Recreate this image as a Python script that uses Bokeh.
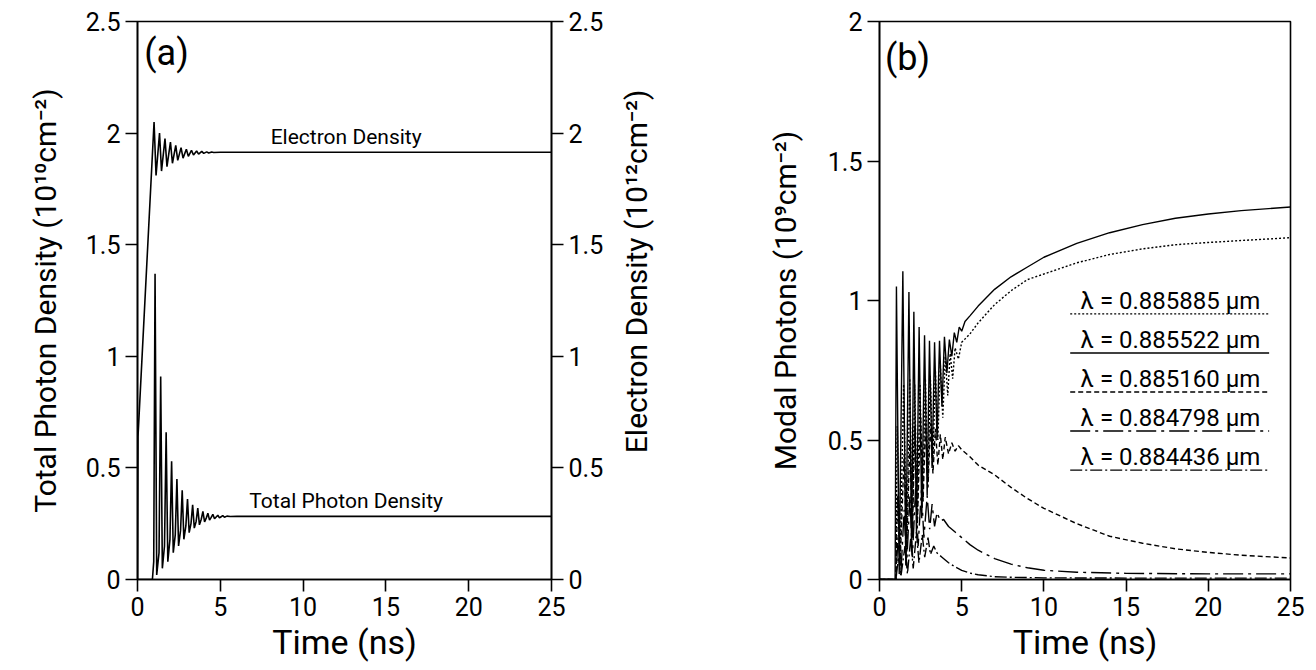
import math
from bokeh.plotting import figure
from bokeh.models import Range1d, LinearAxis, FixedTicker, Label
from bokeh.layouts import row
from bokeh.embed import file_html
from bokeh.resources import INLINE

FONT = "Roboto"

# ---------------- data ----------------
time_ticks = [0, 5, 10, 15, 20, 25]
a_yticks = [0, 0.5, 1, 1.5, 2, 2.5]
a_ytick_labels = ["0", "0.5", "1", "1.5", "2", "2.5"]
b_yticks = [0, 0.5, 1, 1.5, 2]
b_ytick_labels = ["0", "0.5", "1", "1.5", "2"]

# panel (a): total photon density (10^10 cm^-2) vs time (ns)
photon_t = [0.0, 0.90, 0.98, 1.06, 1.16, 1.30, 1.40, 1.50, 1.63, 1.73, 1.83, 1.96, 2.06, 2.16, 2.28,
            2.38, 2.48, 2.60, 2.70, 2.80, 2.92, 3.02, 3.12, 3.23, 3.33, 3.43, 3.54, 3.64, 3.74, 3.85,
            3.95, 4.05, 4.15, 4.25, 4.35, 4.45, 4.55, 4.65, 4.75, 4.85, 4.95, 5.05, 5.15, 5.25, 5.40,
            5.60, 6.00, 10.0, 15.0, 20.0, 25.0]
photon_v = [0.0, 0.0, 0.08, 1.37, 0.02, 0.12, 0.91, 0.05, 0.15, 0.66, 0.08, 0.18, 0.53, 0.12, 0.20,
            0.45, 0.15, 0.22, 0.40, 0.18, 0.24, 0.36, 0.21, 0.25, 0.335, 0.23, 0.26, 0.32, 0.245, 0.27,
            0.305, 0.258, 0.275, 0.297, 0.266, 0.278, 0.292, 0.272, 0.28, 0.288, 0.276, 0.281, 0.286,
            0.279, 0.284, 0.282, 0.283, 0.283, 0.283, 0.283, 0.283]

# panel (a): electron density (10^12 cm^-2) vs time (ns)
electron_t = [0.0, 0.03, 1.00, 1.12, 1.33, 1.45, 1.66, 1.78, 1.99, 2.11, 2.31, 2.43, 2.63, 2.75, 2.95,
              3.07, 3.26, 3.38, 3.57, 3.69, 3.88, 4.00, 4.18, 4.30, 4.48, 4.60, 5.00, 10.0, 15.0, 20.0,
              25.0]
electron_v = [0.0, 0.64, 2.05, 1.81, 2.00, 1.83, 1.975, 1.85, 1.96, 1.865, 1.945, 1.878, 1.935, 1.888,
              1.928, 1.896, 1.923, 1.902, 1.92, 1.906, 1.918, 1.909, 1.916, 1.911, 1.915, 1.913, 1.914,
              1.914, 1.914, 1.914, 1.914]

# panel (b): modal photons (10^9 cm^-2) vs time (ns)
mode_885885 = [(0, 0), (1.0, 0), (1.08, 0.55), (1.25, 0.05), (1.47, 0.70), (1.65, 0.10), (1.84, 0.72),
               (2.0, 0.15), (2.14, 0.70), (2.3, 0.20), (2.46, 0.70), (2.62, 0.28), (2.79, 0.72),
               (2.95, 0.35), (3.09, 0.73), (3.25, 0.42), (3.4, 0.75), (3.55, 0.50), (3.7, 0.77),
               (3.85, 0.58), (4.0, 0.80), (4.15, 0.66), (4.3, 0.81), (4.45, 0.72), (4.6, 0.83),
               (4.8, 0.79), (5.0, 0.85), (5.5, 0.88), (6, 0.92), (7, 0.985), (8, 1.035), (9, 1.075),
               (10, 1.095), (12, 1.135), (14, 1.165), (16, 1.185), (18, 1.20), (20, 1.208),
               (22, 1.215), (25, 1.225)]
mode_885522 = [(0, 0), (0.95, 0), (1.03, 1.05), (1.2, 0.02), (1.42, 1.105), (1.6, 0.05), (1.79, 1.03),
               (1.95, 0.10), (2.09, 0.96), (2.25, 0.15), (2.41, 0.905), (2.57, 0.22), (2.74, 0.875),
               (2.9, 0.30), (3.04, 0.856), (3.2, 0.40), (3.35, 0.85), (3.5, 0.50), (3.65, 0.856),
               (3.8, 0.62), (3.95, 0.87), (4.1, 0.74), (4.25, 0.86), (4.4, 0.80), (4.55, 0.885),
               (4.7, 0.85), (4.85, 0.905), (5.0, 0.89), (5.2, 0.925), (5.5, 0.945), (6, 0.98),
               (7, 1.04), (8, 1.085), (9, 1.12), (10, 1.155), (12, 1.205), (14, 1.243), (16, 1.272),
               (18, 1.295), (20, 1.31), (22, 1.322), (25, 1.335)]
mode_885160 = [(0, 0), (1.0, 0), (1.1, 0.30), (1.25, 0.05), (1.5, 0.45), (1.65, 0.10), (1.85, 0.50),
               (2.0, 0.15), (2.15, 0.55), (2.3, 0.20), (2.5, 0.58), (2.65, 0.28), (2.8, 0.56),
               (2.95, 0.33), (3.1, 0.56), (3.25, 0.38), (3.4, 0.54), (3.55, 0.41), (3.7, 0.52),
               (3.85, 0.43), (4.0, 0.51), (4.2, 0.45), (4.4, 0.49), (4.6, 0.46), (4.8, 0.48),
               (5.0, 0.465), (5.5, 0.44), (6, 0.41), (7, 0.375), (8, 0.33), (9, 0.29), (10, 0.255),
               (12, 0.20), (14, 0.155), (16, 0.13), (18, 0.11), (20, 0.097), (22, 0.087), (25, 0.077)]
mode_884798 = [(0, 0), (1.0, 0), (1.12, 0.15), (1.3, 0.02), (1.5, 0.25), (1.65, 0.05), (1.85, 0.30),
               (2.0, 0.08), (2.2, 0.33), (2.35, 0.12), (2.55, 0.32), (2.7, 0.15), (2.9, 0.30),
               (3.05, 0.18), (3.2, 0.27), (3.35, 0.19), (3.5, 0.24), (3.7, 0.21), (3.9, 0.215),
               (4.2, 0.19), (4.6, 0.17), (5, 0.15), (5.5, 0.125), (6, 0.105), (7, 0.075), (8, 0.055),
               (9, 0.042), (10, 0.033), (12, 0.026), (15, 0.022), (20, 0.02), (25, 0.02)]
mode_884436 = [(0, 0), (1.0, 0), (1.15, 0.08), (1.3, 0.01), (1.55, 0.12), (1.7, 0.02), (1.9, 0.15),
               (2.05, 0.04), (2.25, 0.17), (2.4, 0.06), (2.6, 0.16), (2.75, 0.08), (2.95, 0.15),
               (3.1, 0.09), (3.3, 0.12), (3.5, 0.095), (3.8, 0.08), (4.2, 0.06), (4.6, 0.045),
               (5, 0.033), (5.5, 0.023), (6, 0.017), (7, 0.01), (8, 0.008), (10, 0.006), (15, 0.005),
               (25, 0.005)]

mode_labels = ["λ = 0.885885 μm", "λ = 0.885522 μm", "λ = 0.885160 μm",
               "λ = 0.884798 μm", "λ = 0.884436 μm"]
mode_series = [mode_885885, mode_885522, mode_885160, mode_884798, mode_884436]
mode_dashes = ["2 2", "solid", "5 3", "20 5 3 5", "12 3 2 3"]

right_axis_title = "Electron Density (10¹²cm⁻²)"

# ---------------- styling helpers ----------------
LW = 1.6
H = 670
TOP, BOTTOM = 21, 91


def style_axis(ax, tick_labels=None, label_size="30px"):
    ax.axis_line_width = LW
    ax.axis_line_color = "black"
    ax.major_tick_line_width = LW
    ax.major_tick_line_color = "black"
    ax.major_tick_out = 12
    ax.major_tick_in = 0
    ax.minor_tick_out = 0
    ax.minor_tick_in = 0
    ax.major_label_text_font = FONT
    ax.major_label_text_font_size = "25px"
    ax.major_label_text_color = "black"
    ax.major_label_standoff = 5
    ax.axis_label_text_font = FONT
    ax.axis_label_text_font_style = "normal"
    ax.axis_label_text_font_size = label_size
    ax.axis_label_text_color = "black"
    if tick_labels is not None:
        ax.major_label_overrides = tick_labels


def base_fig(width, yr, ml, mr):
    p = figure(width=width, height=H, x_range=Range1d(0, 25), y_range=Range1d(*yr),
               output_backend="svg", toolbar_location=None,
               min_border_left=ml, min_border_right=mr, min_border_top=TOP, min_border_bottom=BOTTOM)
    p.grid.visible = False
    p.outline_line_color = "black"
    p.outline_line_width = LW
    p.background_fill_color = "white"
    p.border_fill_color = "white"
    xa = p.xaxis[0]
    xa.ticker = FixedTicker(ticks=time_ticks)
    xa.axis_label = "Time (ns)"
    style_axis(xa, {t: str(t) for t in time_ticks}, label_size="34px")
    xa.axis_label_standoff = 3
    return p


def label(x, y, text, size, baseline="middle", angle=0.0):
    return Label(x=x, y=y, text=text, text_font=FONT, text_font_size=size, angle=angle,
                 text_align="center", text_baseline=baseline, text_color="black")


# ---------------- panel (a) ----------------
p1 = base_fig(612, (0, 2.5), 137, 61)
ya = p1.yaxis[0]
ya.ticker = FixedTicker(ticks=a_yticks)
ya.axis_label = "Total Photon Density (10¹⁰cm⁻²)"
style_axis(ya, {t: l for t, l in zip(a_yticks, a_ytick_labels)})
ya.axis_label_standoff = 20

p1.extra_y_ranges = {"electron": Range1d(0, 2.5)}
ra = LinearAxis(y_range_name="electron")
ra.ticker = FixedTicker(ticks=a_yticks)
style_axis(ra, {t: l for t, l in zip(a_yticks, a_ytick_labels)})
p1.add_layout(ra, "right")

p1.line(photon_t, photon_v, line_color="black", line_width=LW)
p1.line(electron_t, electron_v, line_color="black", line_width=LW, y_range_name="electron")

p1.add_layout(label(1.75, 2.36, "(a)", "36px"))
p1.add_layout(label(12.6, 1.93, "Electron Density", "21px", "bottom"))
p1.add_layout(label(12.6, 0.30, "Total Photon Density", "21px", "bottom"))

# ---------------- right-axis title strip (reads bottom-to-top like the reference) ----------------
strip_w = 52
strip = figure(width=strip_w, height=H, x_range=Range1d(0, strip_w), y_range=Range1d(0, H),
               output_backend="svg", toolbar_location=None, x_axis_location=None,
               y_axis_location=None, min_border=0)
strip.grid.visible = False
strip.outline_line_color = None
strip.background_fill_color = "white"
strip.border_fill_color = "white"
strip.add_layout(label(24, H - (TOP + (H - BOTTOM)) / 2, right_axis_title, "30px",
                       angle=math.pi / 2))

# ---------------- panel (b) ----------------
p2_left = 879 - (612 + strip_w)
p2 = base_fig(1316 - 612 - strip_w, (0, 2), p2_left, 26)
yb = p2.yaxis[0]
yb.ticker = FixedTicker(ticks=b_yticks)
yb.axis_label = "Modal Photons (10⁹cm⁻²)"
style_axis(yb, {t: l for t, l in zip(b_yticks, b_ytick_labels)})
yb.axis_label_standoff = 22

for series, dash in zip(mode_series, mode_dashes):
    xs = [pt[0] for pt in series]
    ys = [pt[1] for pt in series]
    p2.line(xs, ys, line_color="black", line_width=1.4, line_dash=dash)

p2.add_layout(label(1.7, 1.87, "(b)", "36px"))

# legend: text with its line sample underneath
leg_text_x = 17.7
leg_x0, leg_x1 = 11.6, 23.7
leg_top = 1.0
leg_step = 0.14
leg_gap = 0.048
for i, (lab, dash) in enumerate(zip(mode_labels, mode_dashes)):
    yc = leg_top - i * leg_step
    p2.add_layout(label(leg_text_x, yc, lab, "24px"))
    p2.line([leg_x0, leg_x1], [yc - leg_gap, yc - leg_gap], line_color="black", line_width=1.4,
            line_dash=dash)

layout = row(p1, strip, p2)
open("out.html", "w").write(file_html(layout, INLINE))
